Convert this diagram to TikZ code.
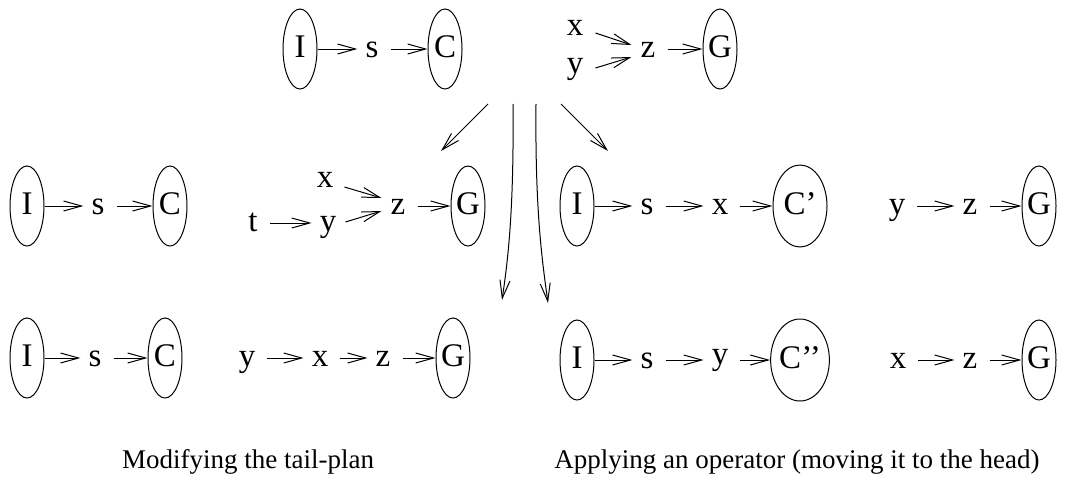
\documentclass[tikz,border=0pt]{standalone}
\usepackage{fontspec}
\setmainfont{Liberation Serif}
\usetikzlibrary{shapes.geometric,arrows.meta}
\begin{document}
\begin{tikzpicture}[x=1pt,y=-1pt,
  lab/.style={inner sep=0pt, text height=17pt, text depth=0pt, font=\fontsize{33pt}{38pt}\selectfont},
  ell/.style={lab, draw, ellipse, line width=1pt, minimum width=34pt, minimum height=80pt},
  wide/.style={minimum width=54pt, minimum height=82pt},
  arr/.style={line width=1pt, -{Straight Barb[length=18pt,width=10pt]}},
  ft/.style={shorten <=12pt},
  tt/.style={shorten >=8pt},
  capt/.style={font=\fontsize{27pt}{32pt}\selectfont, anchor=base, inner sep=0pt}]
\path[use as bounding box] (0,0) rectangle (1065,477);
% row 1
\node[ell] (I1) at (300,49) {I};
\node[lab] (s1) at (372,49) {s};
\node[ell] (C1) at (445,49) {C};
\node[lab] (x1) at (575,27) {x};
\node[lab] (y1) at (575,65) {y};
\node[lab] (z1) at (648,49) {z};
\node[ell] (G1) at (720,49) {G};
\draw[arr,tt] (I1) -- (s1.west);
\draw[arr,ft] (s1.east) -- (C1);
\draw[arr] ([xshift=12pt,yshift=-6pt]x1.east) -- ([xshift=-9pt,yshift=4pt]z1.west);
\draw[arr] ([xshift=12pt,yshift=-3pt]y1.east) -- ([xshift=-9pt,yshift=-8pt]z1.west);
\draw[arr,ft] (z1.east) -- (G1);
% middle arrows
\coordinate (La) at (488,104); \coordinate (Lb) at (441,151);
\coordinate (Ra) at (561,104); \coordinate (Rb) at (608,151);
\coordinate (Ca) at (513,104); \coordinate (Cb) at (502,300);
\coordinate (Da) at (536,104); \coordinate (Db) at (548,303);
\draw[arr] (La) -- (Lb);
\draw[arr] (Ra) -- (Rb);
\draw[arr] (Ca) .. controls (514,210) and (508,260) .. (Cb);
\draw[arr] (Da) .. controls (535,210) and (542,260) .. (Db);
% row 2 left
\node[ell] (I2) at (27,206) {I};
\node[lab] (s2) at (98,206) {s};
\node[ell] (C2) at (170,206) {C};
\node[lab] (t2) at (253,223) {t};
\node[lab] (y2) at (328,223) {y};
\node[lab] (x2) at (325,179) {x};
\node[lab] (z2) at (398,206) {z};
\node[ell] (G2) at (468,206) {G};
\draw[arr,tt] (I2) -- (s2.west);
\draw[arr,ft] (s2.east) -- (C2);
\draw[arr,ft,tt] (t2.east) -- (y2.west);
\draw[arr] ([xshift=11pt,yshift=-8pt]x2.east) -- ([xshift=-9pt,yshift=8pt]z2.west);
\draw[arr] ([xshift=9pt,yshift=1pt]y2.east) -- ([xshift=-9pt,yshift=-5pt]z2.west);
\draw[arr,ft] (z2.east) -- (G2);
% row 2 right
\node[ell] (I3) at (577,206) {I};
\node[lab] (s3) at (647,206) {s};
\node[lab] (x3) at (720,206) {x};
\node[ell,wide] (C3) at (800,206) {C’};
\node[lab] (y3) at (897,206) {y};
\node[lab] (z3) at (970,206) {z};
\node[ell] (G3) at (1039,206) {G};
\draw[arr,tt] (I3) -- (s3.west);
\draw[arr,ft,tt] (s3.east) -- (x3.west);
\draw[arr,ft] (x3.east) -- (C3);
\draw[arr,ft,tt] (y3.east) -- (z3.west);
\draw[arr,ft] (z3.east) -- (G3);
% row 3 left
\node[ell] (I4) at (27,358) {I};
\node[lab] (s4) at (95,358) {s};
\node[ell] (C4) at (165,358) {C};
\node[lab] (y4) at (247,358) {y};
\node[lab] (x4) at (320,358) {x};
\node[lab] (z4) at (383,358) {z};
\node[ell] (G4) at (453,358) {G};
\draw[arr,tt] (I4) -- (s4.west);
\draw[arr,ft] (s4.east) -- (C4);
\draw[arr,ft,tt] (y4.east) -- (x4.west);
\draw[arr,ft,tt] (x4.east) -- (z4.west);
\draw[arr,ft] (z4.east) -- (G4);
% row 3 right
\node[ell] (I5) at (577,360) {I};
\node[lab] (s5) at (647,360) {s};
\node[lab] (y5) at (720,356) {y};
\node[ell,wide] (C5) at (800,360) {C’’};
\node[lab] (x5) at (898,360) {x};
\node[lab] (z5) at (970,360) {z};
\node[ell] (G5) at (1039,360) {G};
\draw[arr,tt] (I5) -- (s5.west);
\draw[arr,ft,tt] (s5.east) -- (y5.west |- s5);
\draw[arr,ft] (y5.east |- C5) -- (C5);
\draw[arr,ft,tt] (x5.east) -- (z5.west);
\draw[arr,ft] (z5.east) -- (G5);
% captions
\node[capt] (m1) at (248,468) {Modifying the tail-plan};
\node[capt] (m2) at (797,468) {Applying an operator (moving it to the head)};
\end{tikzpicture}
\end{document}
